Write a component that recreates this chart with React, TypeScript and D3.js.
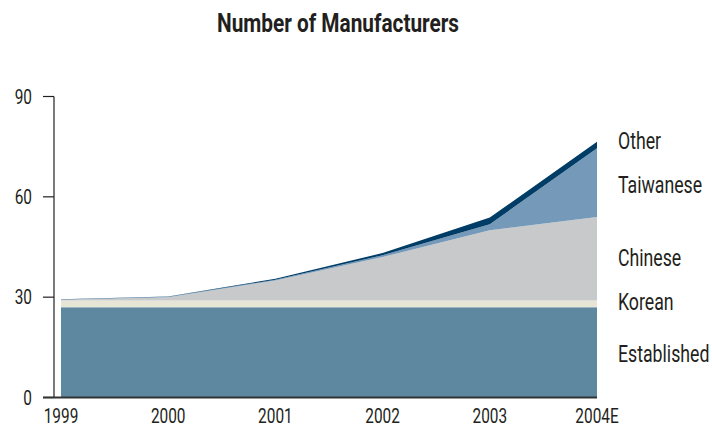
import React from "react";
import * as d3 from "d3";

const years = ["1999", "2000", "2001", "2002", "2003", "2004E"];
const seriesKeys = ["Established", "Korean", "Chinese", "Taiwanese", "Other"];
const established = [27, 27, 27, 27, 27, 27];
const korean = [2, 2, 2, 2, 2, 2];
const chinese = [0.2, 1, 6, 13, 21, 25];
const taiwanese = [0.1, 0.1, 0.2, 0.5, 1.8, 20.5];
const other = [0.1, 0.1, 0.3, 0.7, 2, 2];
const yTicks = [0, 30, 60, 90];
const colors = ["#5e87a0", "#e7e6d6", "#c8c9cb", "#7599b9", "#003d66"];

const FONT = "Roboto, 'Liberation Sans', sans-serif";
const SX = 0.77;

function Txt(props: {
  x: number;
  y: number;
  size: number;
  anchor?: string;
  bold?: boolean;
  sx?: number;
  dy?: string;
  children: React.ReactNode;
}) {
  const { x, y, size, anchor = "start", bold = false, sx = SX, dy, children } = props;
  return (
    <text
      transform={`translate(${x},${y}) scale(${sx},1)`}
      textAnchor={anchor}
      fontSize={size}
      fontWeight={bold ? "bold" : "normal"}
      fill="#231f20"
      dy={dy}
    >
      {children}
    </text>
  );
}

export default function App() {
  const W = 712, H = 427;
  const x0 = 61, x1 = 597;
  const y0 = 397.5, y1 = 96.5;
  const x = d3.scalePoint<string>().domain(years).range([x0, x1]);
  const y = d3.scaleLinear().domain([0, 90]).range([y0, y1]);

  const rows = years.map((yr, i) => ({
    year: yr,
    Established: established[i],
    Korean: korean[i],
    Chinese: chinese[i],
    Taiwanese: taiwanese[i],
    Other: other[i],
  }));
  const stack = d3.stack<any>().keys(seriesKeys)(rows);
  const area = d3
    .area<any>()
    .x((d) => x(d.data.year) as number)
    .y0((d) => y(d[0]))
    .y1((d) => y(d[1]));

  const labelY = [354, 302, 258, 185, 141];

  return (
    <svg
      width={W}
      height={H}
      style={{ position: "absolute", left: 0, top: 0, background: "#fff" }}
      fontFamily={FONT}
    >
      <Txt x={338} y={32} size={26} anchor="middle" bold sx={0.8}>
        Number of Manufacturers
      </Txt>
      {stack.map((s, i) => (
        <path key={s.key} d={area(s) as string} fill={colors[i]} />
      ))}
      <line x1={54} x2={54} y1={y1} y2={y0} stroke="#231f20" strokeWidth={1.2} />
      {yTicks.map((t) => (
        <g key={t}>
          <line x1={43} x2={54} y1={y(t)} y2={y(t)} stroke="#231f20" strokeWidth={1.2} />
          <Txt x={32} y={y(t)} size={20} anchor="end" dy="0.35em">
            {t}
          </Txt>
        </g>
      ))}
      <line x1={43} x2={x1} y1={y0} y2={y0} stroke="#333" strokeWidth={2} />
      {years.map((yr) => (
        <Txt key={yr} x={x(yr) as number} y={423} size={20} anchor="middle">
          {yr}
        </Txt>
      ))}
      {seriesKeys.map((k, i) => (
        <Txt key={k} x={618} y={labelY[i]} size={23} dy="0.35em">
          {k}
        </Txt>
      ))}
    </svg>
  );
}
